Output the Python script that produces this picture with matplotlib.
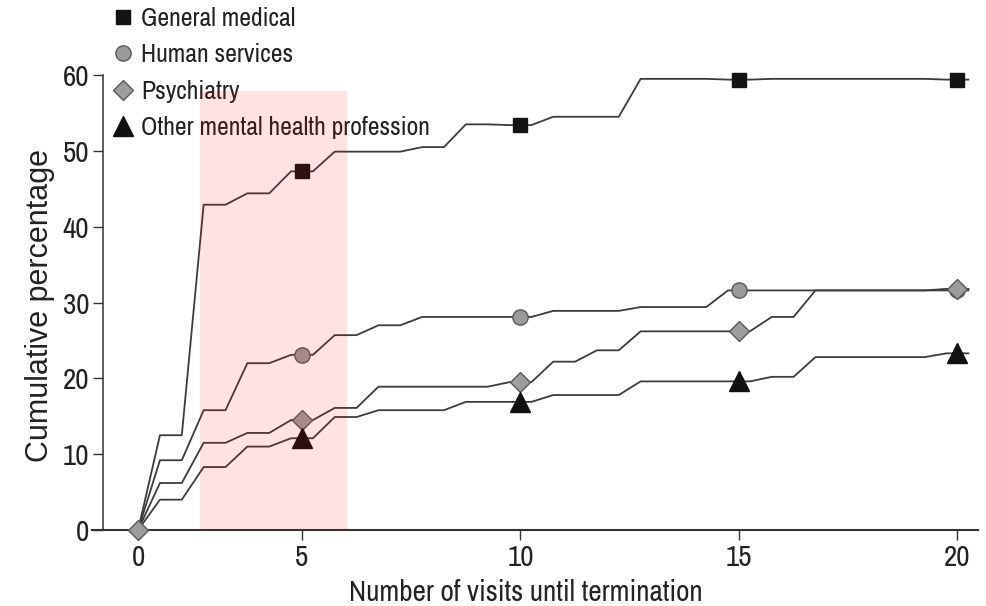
import numpy as np
import matplotlib
matplotlib.use("Agg")
import matplotlib.pyplot as plt
from matplotlib import font_manager as fm

# cumulative percentage at visits 1..20 (visit 1 drawn as the "0" origin)
visits = np.arange(1, 21)
general_medical = [0, 12.5, 42.9, 44.4, 47.3, 49.9, 49.9, 50.5, 53.5, 53.4,
                   54.5, 54.5, 59.5, 59.5, 59.4, 59.5, 59.5, 59.5, 59.5, 59.4]
human_services = [0, 9.2, 15.8, 22.0, 23.1, 25.7, 27.0, 28.1, 28.1, 28.1,
                  28.9, 28.9, 29.4, 29.4, 31.6, 31.6, 31.6, 31.6, 31.6, 31.6]
psychiatry = [0, 6.2, 11.5, 12.8, 14.5, 16.1, 18.9, 18.9, 18.9, 19.5,
              22.2, 23.7, 26.2, 26.2, 26.2, 28.1, 31.6, 31.6, 31.6, 31.8]
other_mental = [0, 4.0, 8.3, 11.0, 12.1, 14.9, 15.8, 15.8, 16.9, 16.9,
                17.8, 17.8, 19.6, 19.6, 19.6, 20.2, 22.8, 22.8, 22.8, 23.3]

labels = ['General medical', 'Human services', 'Psychiatry',
          'Other mental health profession']
tick_labels = ['0', '5', '10', '15', '20']


def pick_font(cands, default):
    have = set(f.name for f in fm.fontManager.ttflist)
    for c in cands:
        if c in have:
            return c
    return default


def step_path(x, y, half=0.25):
    """flat run around each visit, sloped riser between visits."""
    xs, ys = [], []
    for xi, yi in zip(x, y):
        xs += [xi - half, xi + half]
        ys += [yi, yi]
    return np.array(xs[1:]), np.array(ys[1:])


def main():
    narrow = pick_font(['Liberation Sans Narrow', 'Arial Narrow', 'Nimbus Sans Narrow',
                        'Archivo Narrow', 'Roboto Condensed', 'PT Sans Narrow',
                        'Pragati Narrow', 'Fira Sans Condensed', 'IBM Plex Sans Condensed',
                        'Encode Sans Condensed', 'Asap Condensed', 'Sofia Sans Condensed'],
                       'Liberation Sans')
    plt.rcParams['font.family'] = [narrow, 'DejaVu Sans']
    fig = plt.figure(figsize=(9.87, 6.06), dpi=100)
    ax = fig.add_axes([92/987, 76/606, 886/987, 530/606])

    series = [general_medical, human_services, psychiatry, other_mental]
    styles = [dict(marker='s', ms=9.5, mfc='#141414', mec='#141414'),
              dict(marker='o', ms=11, mfc='#9a9a9a', mec='#5a5a5a'),
              dict(marker='D', ms=10, mfc='#9c9c9c', mec='#5a5a5a'),
              dict(marker='^', ms=15, mfc='#111111', mec='#111111')]
    line_col = '#3c3c3c'
    mark_idx = [4, 9, 14, 19]

    handles = []
    for vals, st, lab in zip(series, styles, labels):
        xs, ys = step_path(visits, vals)
        ax.plot(xs, ys, color=line_col, lw=1.3, zorder=3, clip_on=False)
        vx = visits[mark_idx] + 0.0
        vy = np.array(vals)[mark_idx]
        h, = ax.plot(vx, vy, ls='none', mew=1.0, zorder=4, clip_on=False, label=lab, **st)
        handles.append(h)

    # origin marker (all series start at 0)
    ax.plot(visits[0] + 0.25, psychiatry[0], ls='none', zorder=5, clip_on=False, **styles[2])

    # highlighted region
    ax.fill_between([2.67, 6.03], 0, 57.9, color='red', alpha=0.115, lw=0, zorder=10)

    ax.set_xlim(0.195, 20.47)
    ax.set_ylim(0, 69.9)
    ax.set_xticks([visits[0] + 0.25, 5, 10, 15, 20])
    ax.set_xticklabels(tick_labels)
    ax.set_yticks(np.arange(0, 61, 10))

    for s in ['top', 'right']:
        ax.spines[s].set_visible(False)
    ax.spines['left'].set_position(('data', 0.45))
    ax.spines['left'].set_bounds(0, 60)
    ax.spines['left'].set_color('#333333')
    ax.spines['bottom'].set_color('#333333')
    ax.spines['left'].set_linewidth(1.1)
    ax.spines['bottom'].set_linewidth(1.5)
    ax.tick_params(axis='both', length=7, width=1.0, color='#333333',
                   labelsize=21, labelcolor='#222222', pad=3)

    ax.set_xlabel('Number of visits until termination', fontsize=21, color='#222222',
                  va='baseline')
    ax.xaxis.set_label_coords(0.49, -71/530)
    ax.set_ylabel('Cumulative percentage', fontsize=22, color='#222222', va='center',
                  family=['Liberation Sans', 'DejaVu Sans'])
    ax.yaxis.set_label_coords(-52/886, 225/530)

    leg = ax.legend(handles=handles, loc='upper left', bbox_to_anchor=(110/987, 1 - 7/606),
                    bbox_transform=fig.transFigure, frameon=False, fontsize=18.5,
                    handlelength=1.0, handletextpad=0.2, labelspacing=0.52,
                    borderaxespad=0, borderpad=0, markerscale=1.0)
    for t in leg.get_texts():
        t.set_color('#222222')
    leg.set_zorder(5)

    fig.savefig('out.png', dpi=100)


if __name__ == '__main__':
    main()
